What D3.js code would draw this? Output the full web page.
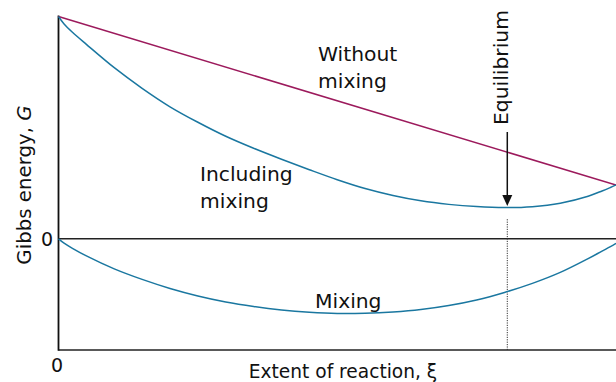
<!DOCTYPE html>
<html>
<head>
<meta charset="utf-8">
<script src="https://cdn.jsdelivr.net/npm/d3@7"></script>
<style>
  body { margin: 0; background: #fff; }
  text { font-family: "DejaVu Sans", "Liberation Sans", Arial, sans-serif; fill: #111; }
</style>
</head>
<body>
<div id="chart"></div>
<script>
var width = 616;
var height = 382;

// extent of reaction samples
var xi = [0, 0.01, 0.025, 0.05, 0.1, 0.15, 0.2, 0.25, 0.3, 0.35, 0.4, 0.45, 0.5,
          0.55, 0.6, 0.65, 0.7, 0.75, 0.8, 0.85, 0.9, 0.95, 0.975, 0.99, 1];

// Gibbs energy
var withoutMixing = [3.0, 0.726];           // at xi = 0 and 1
var includingMixing = [3.0, 2.899, 2.787, 2.624, 2.309, 2.031, 1.782, 1.573, 1.384, 1.222, 1.074, 0.933, 0.798,
                       0.679, 0.585, 0.513, 0.465, 0.435, 0.422, 0.434, 0.481, 0.575, 0.646, 0.693, 0.726];
var mixing = [0, -0.058, -0.128, -0.230, -0.405, -0.547, -0.669, -0.770, -0.851, -0.912, -0.959, -0.990, -1.007,
              -1.004, -0.986, -0.953, -0.899, -0.824, -0.723, -0.601, -0.453, -0.267, -0.166, -0.106, -0.06];

var equilibrium = 0.805;

var xScale = d3.scaleLinear().domain([0, 1]).range([58.5, 616]);
var yScale = d3.scaleLinear().domain([-1.5, 3]).range([350, 16.5]);

var svg = d3.select("#chart").append("svg")
    .attr("width", width)
    .attr("height", height);

var line = d3.line()
    .x(function (d) { return xScale(d[0]); })
    .y(function (d) { return yScale(d[1]); })
    .curve(d3.curveCatmullRom.alpha(0.5));

//zero line
svg.append("line")
    .attr("x1", xScale(0)).attr("x2", xScale(1))
    .attr("y1", yScale(0)).attr("y2", yScale(0))
    .attr("stroke", "#222").attr("stroke-width", 1.5);

//axes
svg.append("line")
    .attr("x1", xScale(0)).attr("x2", xScale(1))
    .attr("y1", yScale(-1.5)).attr("y2", yScale(-1.5))
    .attr("stroke", "#222").attr("stroke-width", 1.5);
svg.append("line")
    .attr("x1", xScale(0)).attr("x2", xScale(0))
    .attr("y1", yScale(-1.5) + 0.75).attr("y2", yScale(3) - 1)
    .attr("stroke", "#111").attr("stroke-width", 1.8);

//equilibrium dotted marker
svg.append("line")
    .attr("x1", xScale(equilibrium)).attr("x2", xScale(equilibrium))
    .attr("y1", yScale(-1.5)).attr("y2", yScale(0.28))
    .attr("stroke", "#333").attr("stroke-width", 1)
    .attr("stroke-dasharray", "1.2,1.2");

svg.append("path")
    .datum([[0, withoutMixing[0]], [1, withoutMixing[1]]])
    .attr("d", line)
    .attr("fill", "none")
    .attr("stroke", "#9c1a5c")
    .attr("stroke-width", 1.5);

svg.append("path")
    .datum(xi.map(function (x, i) { return [x, includingMixing[i]]; }))
    .attr("d", line)
    .attr("fill", "none")
    .attr("stroke", "#1a77a0")
    .attr("stroke-width", 1.5);

svg.append("path")
    .datum(xi.map(function (x, i) { return [x, mixing[i]]; }))
    .attr("d", line)
    .attr("fill", "none")
    .attr("stroke", "#1a77a0")
    .attr("stroke-width", 1.5);

//arrow
var ax = xScale(equilibrium);
svg.append("line")
    .attr("x1", ax).attr("x2", ax)
    .attr("y1", 132).attr("y2", 198)
    .attr("stroke", "#111").attr("stroke-width", 1.5);
svg.append("path")
    .attr("d", "M" + (ax - 5) + ",195 L" + (ax + 5) + ",195 L" + ax + ",206 Z")
    .attr("fill", "#111");

//labels
var fs = 20.3;
svg.append("text").attr("x", 318).attr("y", 61).attr("font-size", fs).text("Without");
svg.append("text").attr("x", 318).attr("y", 88).attr("font-size", fs).text("mixing");
svg.append("text").attr("x", 200).attr("y", 181).attr("font-size", fs).text("Including");
svg.append("text").attr("x", 200).attr("y", 208).attr("font-size", fs).text("mixing");
svg.append("text").attr("x", 315).attr("y", 308).attr("font-size", fs).text("Mixing");

svg.append("text")
    .attr("transform", "translate(" + (ax + 1) + ",125) rotate(-90)")
    .attr("font-size", fs)
    .text("Equilibrium");

svg.append("text")
    .attr("x", 343).attr("y", 378)
    .attr("text-anchor", "middle")
    .attr("font-size", 18.6)
    .text("Extent of reaction, \u03be");

var yl = svg.append("text")
    .attr("transform", "translate(31,185) rotate(-90)")
    .attr("text-anchor", "middle")
    .attr("font-size", 19.8);
yl.append("tspan").text("Gibbs energy, ");
yl.append("tspan").attr("font-style", "italic").text("G");

svg.append("text").attr("x", 47).attr("y", yScale(0) + 7).attr("text-anchor", "middle")
    .attr("font-size", 19).text("0");
svg.append("text").attr("x", 57).attr("y", 372).attr("text-anchor", "middle")
    .attr("font-size", 19).text("0");
</script>
</body>
</html>
